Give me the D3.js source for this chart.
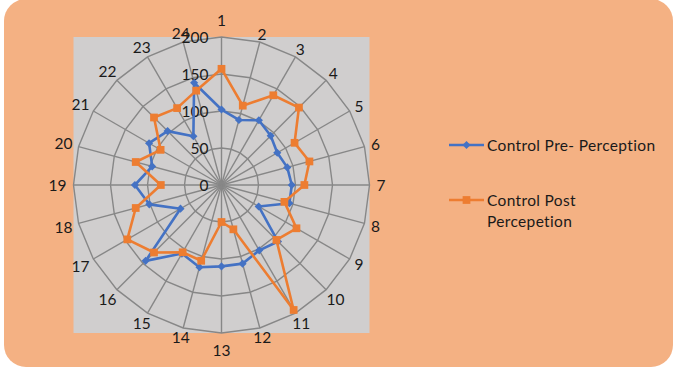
<!DOCTYPE html>
<html>
<head>
<meta charset="utf-8">
<script src="https://cdn.jsdelivr.net/npm/d3@7/dist/d3.min.js"></script>
<style>
  html, body { margin: 0; padding: 0; background: #ffffff; }
  svg { display: block; }
  text { font-family: Lato, "Open Sans", "Liberation Sans", sans-serif; fill: #1a1a1a; }
</style>
</head>
<body>
<svg id="chart" width="673" height="372"></svg>
<script>
// Spokes of the radar (24 items)
const categories = ["1","2","3","4","5","6","7","8","9","10","11","12",
                    "13","14","15","16","17","18","19","20","21","22","23","24"];
// Radial axis ticks
const radialTicks = [0, 50, 100, 150, 200];
// Series values, one per spoke
const preValues  = [102, 91, 101, 94, 87, 92, 95, 95, 58, 108, 102, 110,
                    110, 115, 107, 145, 64, 101, 117, 97, 113, 103, 76, 143];
const postValues = [157, 111, 140, 148, 114, 123, 112, 88, 117, 105, 195, 62,
                    50, 106, 105, 129, 147, 120, 82, 120, 95, 129, 120, 132];
const seriesNames = ["Control Pre- Perception", "Control Post Percepetion"];

const svg = d3.select("#chart");

// Card background
svg.append("rect")
  .attr("x", 4).attr("y", -1)
  .attr("width", 669).attr("height", 368)
  .attr("rx", 22).attr("ry", 22)
  .attr("fill", "#F4B183");

const cx = 221.5, cy = 185, R = 148;

// Plot area
svg.append("rect")
  .attr("x", cx - R).attr("y", cy - R)
  .attr("width", 2 * R).attr("height", 2 * R)
  .attr("fill", "#D0CECE");

const rScale = d3.scaleLinear().domain([0, 200]).range([0, R]);
const aScale = d3.scaleLinear().domain([0, categories.length]).range([0, 2 * Math.PI]);

const g = svg.append("g").attr("transform", `translate(${cx},${cy})`);

const polar = (i, v) => {
  const a = aScale(i), r = rScale(v);
  return [Math.sin(a) * r, -Math.cos(a) * r];
};

// Polygonal grid rings
const ringLine = d3.lineRadial()
  .angle((d, i) => aScale(i))
  .radius(d => rScale(d))
  .curve(d3.curveLinearClosed);

radialTicks.filter(t => t > 0).forEach(t => {
  g.append("path")
    .attr("d", ringLine(categories.map(() => t)))
    .attr("fill", "none")
    .attr("stroke", "#878787")
    .attr("stroke-width", 1.4);
});

// Spokes
g.selectAll("line.spoke")
  .data(categories)
  .join("line")
  .attr("class", "spoke")
  .attr("x1", 0).attr("y1", 0)
  .attr("x2", (d, i) => polar(i, 200)[0])
  .attr("y2", (d, i) => polar(i, 200)[1])
  .attr("stroke", "#878787")
  .attr("stroke-width", 1.4);

// Radial tick labels along the top spoke
g.selectAll("text.tick")
  .data(radialTicks)
  .join("text")
  .attr("class", "tick")
  .attr("x", -13)
  .attr("y", d => -rScale(d))
  .attr("text-anchor", "end")
  .attr("dominant-baseline", "central")
  .attr("font-size", 15.5)
  .text(d => d);

// Category labels around the rim
g.selectAll("text.cat")
  .data(categories)
  .join("text")
  .attr("class", "cat")
  .attr("font-size", 15.5)
  .attr("text-anchor", "middle")
  .attr("dominant-baseline", "central")
  .text(d => d)
  .each(function (d, i) {
    const a = aScale(i);
    const halfW = this.getComputedTextLength() / 2;
    const extra = (i % 12 === 0) ? 10 : 0;
    const r = R + 7 + halfW * Math.abs(Math.sin(a)) + extra;
    d3.select(this)
      .attr("x", Math.sin(a) * r)
      .attr("y", -Math.cos(a) * r);
  });

const seriesLine = d3.lineRadial()
  .angle((d, i) => aScale(i))
  .radius(d => rScale(d))
  .curve(d3.curveLinearClosed);

const blue = "#4472C4", orange = "#ED7D31";
const diamond = d3.symbol().type(d3.symbolDiamond2).size(42);
const square = d3.symbol().type(d3.symbolSquare).size(60);

function drawSeries(values, color, sym, cls) {
  g.append("path")
    .attr("d", seriesLine(values))
    .attr("fill", "none")
    .attr("stroke", color)
    .attr("stroke-width", 2.6)
    .attr("stroke-linejoin", "round");
  g.selectAll("path." + cls)
    .data(values)
    .join("path")
    .attr("class", cls)
    .attr("d", sym)
    .attr("transform", (d, i) => `translate(${polar(i, d)[0]},${polar(i, d)[1]})`)
    .attr("fill", color);
}

drawSeries(preValues, blue, diamond, "pre-mark");
drawSeries(postValues, orange, square, "post-mark");

// Legend
const legend = svg.append("g");
const legendItems = [
  { name: seriesNames[0], color: blue, sym: diamond, y: 145, lines: ["Control Pre- Perception"] },
  { name: seriesNames[1], color: orange, sym: square, y: 200, lines: ["Control Post", "Percepetion"] }
];
legendItems.forEach(item => {
  legend.append("line")
    .attr("x1", 449).attr("x2", 484)
    .attr("y1", item.y).attr("y2", item.y)
    .attr("stroke", item.color).attr("stroke-width", 2.6);
  legend.append("path")
    .attr("d", item.sym)
    .attr("transform", `translate(466.5,${item.y})`)
    .attr("fill", item.color);
  item.lines.forEach((t, k) => {
    legend.append("text")
      .attr("x", 487)
      .attr("y", item.y + k * 21)
      .attr("dominant-baseline", "central")
      .attr("font-size", 15.5)
      .attr("letter-spacing", 0.35)
      .text(t);
  });
});
</script>
</body>
</html>
